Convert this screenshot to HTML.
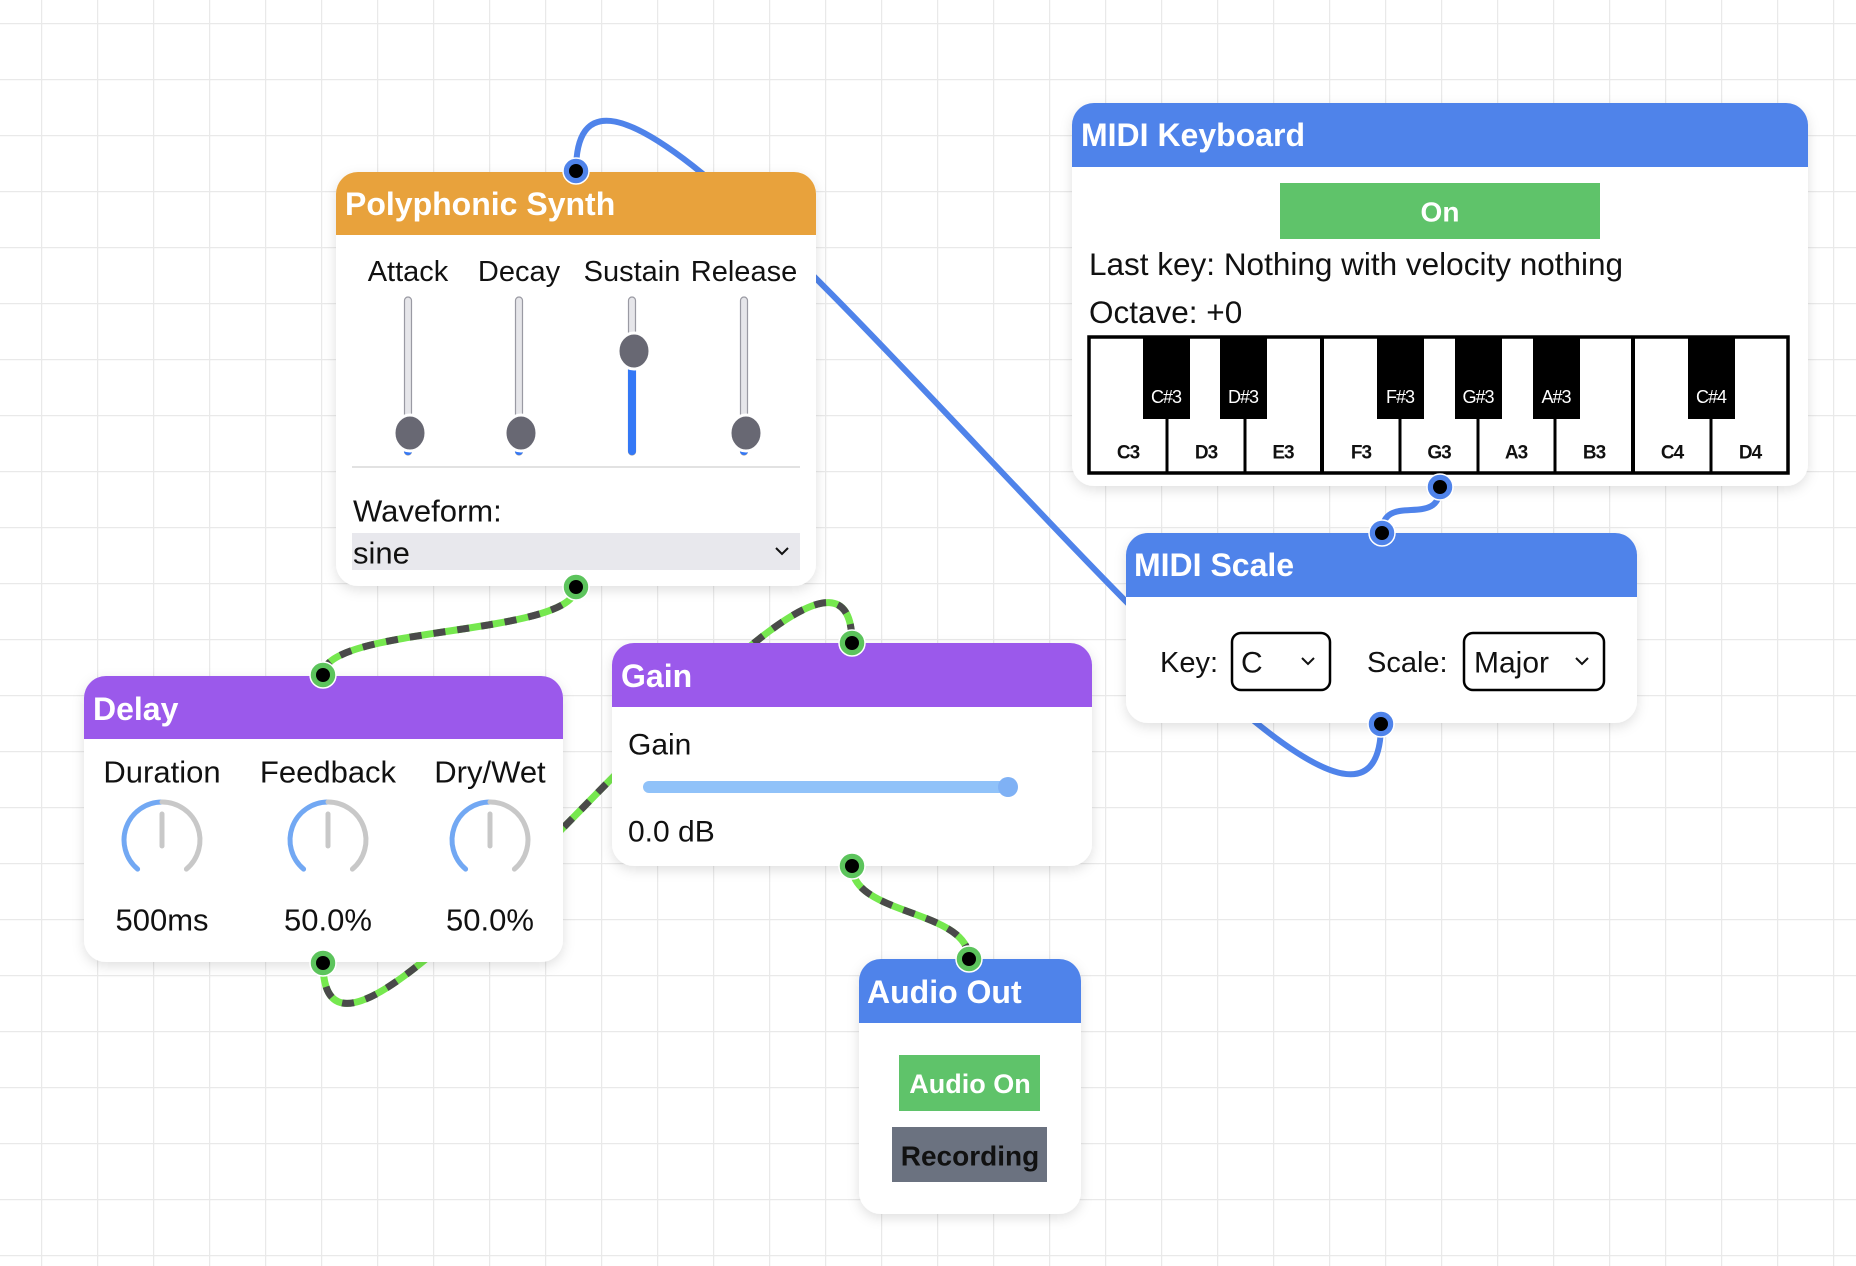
<!DOCTYPE html>
<html><head><meta charset="utf-8"><style>
html,body{margin:0;padding:0;background:#fff;}
svg{display:block;font-family:"Liberation Sans",sans-serif;}
</style></head><body>
<svg width="1856" height="1266" viewBox="0 0 1856 1266" xmlns="http://www.w3.org/2000/svg">
<defs>
<pattern id="g" x="41" y="23" width="56" height="56" patternUnits="userSpaceOnUse">
<path d="M0 0V56M0 0H56" stroke="#e9e9e9" stroke-width="2.5" fill="none"/>
</pattern>
<filter id="sh" x="-10%" y="-10%" width="120%" height="130%"><feDropShadow dx="0" dy="4" stdDeviation="6" flood-color="#000" flood-opacity="0.12"/></filter>
</defs>
<rect width="1856" height="1266" fill="#fff"/>
<rect width="1856" height="1266" fill="url(#g)"/>

<!-- connections -->
<path d="M1381 724 C1381 1024, 576 -129, 576 171" stroke="#4f83ea" stroke-width="6" fill="none"/>
<path d="M1440 487 C1440 530, 1382 490, 1382 533" stroke="#4f83ea" stroke-width="6" fill="none"/>
<g fill="none" stroke-width="7">
<path d="M576 587 C576 637, 323 625, 323 675" stroke="#76e84f"/>
<path d="M576 587 C576 637, 323 625, 323 675" stroke="#4a4a4a" stroke-dasharray="12 12"/>
<path d="M323 963 C323 1183, 852 423, 852 643" stroke="#76e84f"/>
<path d="M323 963 C323 1183, 852 423, 852 643" stroke="#4a4a4a" stroke-dasharray="12 12"/>
<path d="M852 866 C852 916, 969 909, 969 959" stroke="#76e84f"/>
<path d="M852 866 C852 916, 969 909, 969 959" stroke="#4a4a4a" stroke-dasharray="12 12"/>
</g>

<!-- Polyphonic Synth -->
<g filter="url(#sh)"><rect x="336" y="172" width="480" height="414" rx="22" fill="#fff"/></g>
<path d="M336 235 V194 a22 22 0 0 1 22 -22 H794 a22 22 0 0 1 22 22 V235 Z" fill="#e8a23c"/>
<text x="345" y="204" font-size="32" font-weight="bold" fill="#fff" dominant-baseline="central">Polyphonic Synth</text>
<g font-size="29" fill="#111" dominant-baseline="central" text-anchor="middle">
<text x="408" y="272">Attack</text><text x="519" y="272">Decay</text><text x="632" y="272">Sustain</text><text x="744" y="272">Release</text>
</g>
<g stroke="#9a9aa3" stroke-width="1.2" fill="#e6e6ea">
<rect x="404.5" y="297" width="7" height="158" rx="3.5"/>
<rect x="515.5" y="297" width="7" height="158" rx="3.5"/>
<rect x="628.5" y="297" width="7" height="158" rx="3.5"/>
<rect x="740.5" y="297" width="7" height="158" rx="3.5"/>
</g>
<rect x="628" y="351" width="8" height="104" rx="4" fill="#3478f6"/>
<g fill="#3478f6"><circle cx="408" cy="451" r="4"/><circle cx="519" cy="451" r="4"/><circle cx="744" cy="451" r="4"/></g>
<g fill="#686873" stroke="#fff" stroke-width="3">
<ellipse cx="410" cy="433" rx="16" ry="18"/><ellipse cx="521" cy="433" rx="16" ry="18"/>
<ellipse cx="634" cy="351" rx="16" ry="18"/><ellipse cx="746" cy="433" rx="16" ry="18"/>
</g>
<line x1="352" y1="467" x2="800" y2="467" stroke="#e2e2e2" stroke-width="2"/>
<text x="353" y="511" font-size="31" fill="#111" dominant-baseline="central">Waveform:</text>
<rect x="352" y="533" width="448" height="37" fill="#e8e8ed"/>
<text x="353" y="553" font-size="31" fill="#111" dominant-baseline="central">sine</text>
<polyline points="776,548 782,554 788,548" fill="none" stroke="#111" stroke-width="2"/>

<!-- MIDI Keyboard -->
<g filter="url(#sh)"><rect x="1072" y="103" width="736" height="383" rx="22" fill="#fff"/></g>
<path d="M1072 167 V125 a22 22 0 0 1 22 -22 H1786 a22 22 0 0 1 22 22 V167 Z" fill="#4f83ea"/>
<text x="1081" y="135" font-size="32" font-weight="bold" fill="#fff" dominant-baseline="central">MIDI Keyboard</text>
<rect x="1280" y="183" width="320" height="56" fill="#5fc36a"/>
<text x="1440" y="212" font-size="28" font-weight="bold" fill="#fff" text-anchor="middle" dominant-baseline="central">On</text>
<text x="1089" y="264" font-size="31.5" fill="#111" dominant-baseline="central">Last key: Nothing with velocity nothing</text>
<text x="1089" y="312" font-size="31.5" fill="#111" dominant-baseline="central">Octave: +0</text>
<rect x="1089" y="337" width="699" height="136" fill="#fff" stroke="#000" stroke-width="3.5"/>
<g stroke="#000" stroke-width="3">
<line x1="1167" y1="337" x2="1167" y2="473"/><line x1="1245" y1="337" x2="1245" y2="473"/><line x1="1322" y1="337" x2="1322" y2="473" stroke-width="4"/>
<line x1="1400" y1="337" x2="1400" y2="473"/><line x1="1478" y1="337" x2="1478" y2="473"/><line x1="1555" y1="337" x2="1555" y2="473"/>
<line x1="1633" y1="337" x2="1633" y2="473" stroke-width="4"/><line x1="1711" y1="337" x2="1711" y2="473"/>
</g>
<g fill="#000">
<rect x="1143" y="337" width="47" height="82"/><rect x="1220" y="337" width="47" height="82"/>
<rect x="1377" y="337" width="47" height="82"/><rect x="1455" y="337" width="47" height="82"/>
<rect x="1533" y="337" width="47" height="82"/><rect x="1688" y="337" width="47" height="82"/>
</g>
<g font-size="18" fill="#fff" text-anchor="middle" dominant-baseline="central" letter-spacing="-1">
<text x="1166" y="397">C#3</text><text x="1243" y="397">D#3</text><text x="1400" y="397">F#3</text>
<text x="1478" y="397">G#3</text><text x="1556" y="397">A#3</text><text x="1711" y="397">C#4</text>
</g>
<g font-size="19" font-weight="bold" fill="#111" text-anchor="middle" dominant-baseline="central" letter-spacing="-1">
<text x="1128" y="453">C3</text><text x="1206" y="453">D3</text><text x="1283" y="453">E3</text>
<text x="1361" y="453">F3</text><text x="1439" y="453">G3</text><text x="1516" y="453">A3</text>
<text x="1594" y="453">B3</text><text x="1672" y="453">C4</text><text x="1750" y="453">D4</text>
</g>

<!-- MIDI Scale -->
<g filter="url(#sh)"><rect x="1126" y="533" width="511" height="190" rx="22" fill="#fff"/></g>
<path d="M1126 597 V555 a22 22 0 0 1 22 -22 H1615 a22 22 0 0 1 22 22 V597 Z" fill="#4f83ea"/>
<text x="1134" y="565" font-size="32" font-weight="bold" fill="#fff" dominant-baseline="central">MIDI Scale</text>
<text x="1160" y="663" font-size="29" fill="#111" dominant-baseline="central">Key:</text>
<rect x="1232" y="633" width="98" height="57" rx="9" fill="#fff" stroke="#000" stroke-width="2.5"/>
<text x="1241" y="663" font-size="30" fill="#111" dominant-baseline="central">C</text>
<polyline points="1302,658 1308,664 1314,658" fill="none" stroke="#111" stroke-width="2"/>
<text x="1367" y="663" font-size="29" fill="#111" dominant-baseline="central">Scale:</text>
<rect x="1464" y="633" width="140" height="57" rx="9" fill="#fff" stroke="#000" stroke-width="2.5"/>
<text x="1474" y="663" font-size="30" fill="#111" dominant-baseline="central">Major</text>
<polyline points="1576,658 1582,664 1588,658" fill="none" stroke="#111" stroke-width="2"/>

<!-- Delay -->
<g filter="url(#sh)"><rect x="84" y="676" width="479" height="286" rx="22" fill="#fff"/></g>
<path d="M84 739 V698 a22 22 0 0 1 22 -22 H541 a22 22 0 0 1 22 22 V739 Z" fill="#9b59eb"/>
<text x="93" y="709" font-size="32" font-weight="bold" fill="#fff" dominant-baseline="central">Delay</text>
<g font-size="31" fill="#111" text-anchor="middle" dominant-baseline="central">
<text x="162" y="772">Duration</text><text x="328" y="772">Feedback</text><text x="490" y="772">Dry/Wet</text>
<text x="162" y="920">500ms</text><text x="328" y="920">50.0%</text><text x="490" y="920">50.0%</text>
</g>
<g fill="none" stroke-width="5" stroke-linecap="round">
<g transform="translate(162,840)"><path d="M-24.4 29.1 A38 38 0 0 1 0 -38" stroke="#72a8f3"/><path d="M0 -38 A38 38 0 0 1 24.4 29.1" stroke="#c8c8c8"/><line x1="0" y1="-26" x2="0" y2="6" stroke="#c8c8c8"/></g>
<g transform="translate(328,840)"><path d="M-24.4 29.1 A38 38 0 0 1 0 -38" stroke="#72a8f3"/><path d="M0 -38 A38 38 0 0 1 24.4 29.1" stroke="#c8c8c8"/><line x1="0" y1="-26" x2="0" y2="6" stroke="#c8c8c8"/></g>
<g transform="translate(490,840)"><path d="M-24.4 29.1 A38 38 0 0 1 0 -38" stroke="#72a8f3"/><path d="M0 -38 A38 38 0 0 1 24.4 29.1" stroke="#c8c8c8"/><line x1="0" y1="-26" x2="0" y2="6" stroke="#c8c8c8"/></g>
</g>

<!-- Gain -->
<g filter="url(#sh)"><rect x="612" y="643" width="480" height="223" rx="22" fill="#fff"/></g>
<path d="M612 707 V665 a22 22 0 0 1 22 -22 H1070 a22 22 0 0 1 22 22 V707 Z" fill="#9b59eb"/>
<text x="621" y="676" font-size="32" font-weight="bold" fill="#fff" dominant-baseline="central">Gain</text>
<text x="628" y="745" font-size="30" fill="#111" dominant-baseline="central">Gain</text>
<rect x="643" y="781" width="374" height="12" rx="6" fill="#90c2f9"/>
<circle cx="1008" cy="787" r="10" fill="#7fb1f5"/>
<text x="628" y="832" font-size="30" fill="#111" dominant-baseline="central">0.0 dB</text>

<!-- Audio Out -->
<g filter="url(#sh)"><rect x="859" y="959" width="222" height="255" rx="22" fill="#fff"/></g>
<path d="M859 1023 V981 a22 22 0 0 1 22 -22 H1059 a22 22 0 0 1 22 22 V1023 Z" fill="#4f83ea"/>
<text x="867" y="992" font-size="32" font-weight="bold" fill="#fff" dominant-baseline="central">Audio Out</text>
<rect x="899" y="1055" width="141" height="56" fill="#5fc36a"/>
<text x="970" y="1084" font-size="27" font-weight="bold" fill="#fff" text-anchor="middle" dominant-baseline="central">Audio On</text>
<rect x="892" y="1127" width="155" height="55" fill="#6b7280"/>
<text x="970" y="1156" font-size="28" font-weight="bold" fill="#111" text-anchor="middle" dominant-baseline="central">Recording</text>

<!-- ports -->
<g stroke="#fff" stroke-width="1.5">
<circle cx="576" cy="171" r="13" fill="#4f83ea"/><circle cx="1440" cy="487" r="13" fill="#4f83ea"/>
<circle cx="1382" cy="533" r="13" fill="#4f83ea"/><circle cx="1381" cy="724" r="13" fill="#4f83ea"/>
<circle cx="576" cy="587" r="13" fill="#5cc45c"/><circle cx="323" cy="675" r="13" fill="#5cc45c"/>
<circle cx="323" cy="963" r="13" fill="#5cc45c"/><circle cx="852" cy="643" r="13" fill="#5cc45c"/>
<circle cx="852" cy="866" r="13" fill="#5cc45c"/><circle cx="969" cy="959" r="13" fill="#5cc45c"/>
</g>
<g fill="#000">
<circle cx="576" cy="171" r="7"/><circle cx="1440" cy="487" r="7"/><circle cx="1382" cy="533" r="7"/><circle cx="1381" cy="724" r="7"/>
<circle cx="576" cy="587" r="7"/><circle cx="323" cy="675" r="7"/><circle cx="323" cy="963" r="7"/><circle cx="852" cy="643" r="7"/>
<circle cx="852" cy="866" r="7"/><circle cx="969" cy="959" r="7"/>
</g>
</svg>
</body></html>
